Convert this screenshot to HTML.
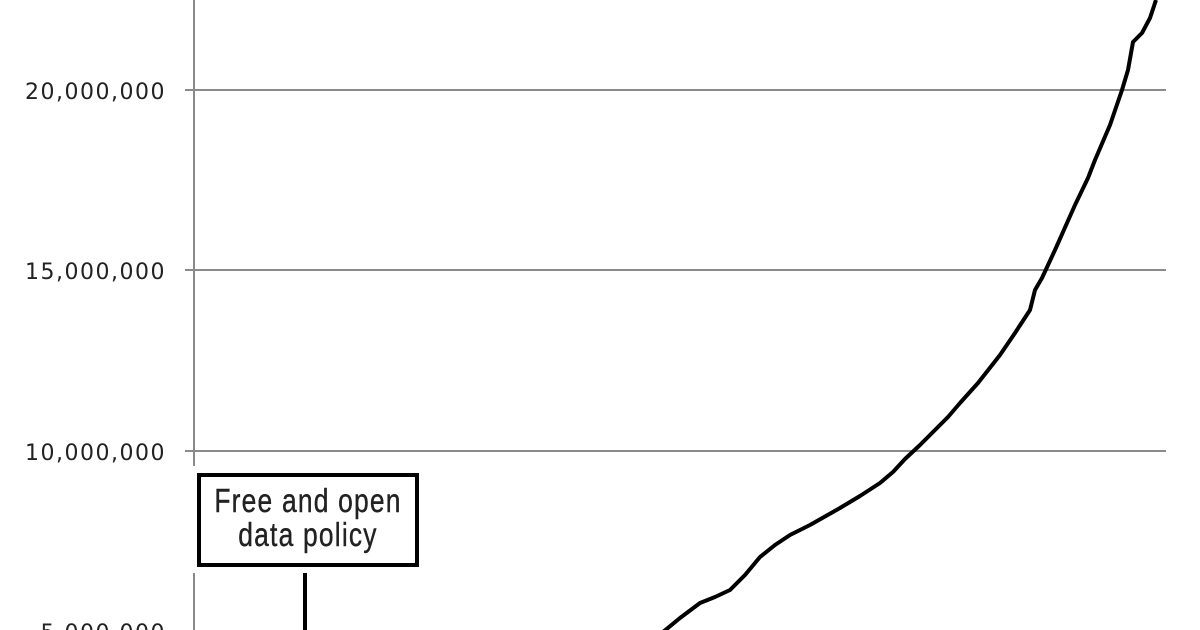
<!DOCTYPE html>
<html><head><style>
html,body{margin:0;padding:0;background:#fff;}
svg{display:block;}
</style></head><body>
<svg width="1200" height="630" viewBox="0 0 1200 630" xmlns="http://www.w3.org/2000/svg">
<g stroke="#8a8a8a" stroke-width="2" fill="none">
<line x1="185" y1="90" x2="1166" y2="90"/>
<line x1="185" y1="270" x2="1166" y2="270"/>
<line x1="185" y1="451" x2="1166" y2="451"/>
<line x1="194" y1="0" x2="194" y2="466"/>
<line x1="194" y1="573" x2="194" y2="630"/>
</g>
<g font-family="'DejaVu Sans', 'Liberation Sans', sans-serif" font-size="22" fill="#222" text-anchor="end" letter-spacing="1.5">
<text x="166" y="99">20,000,000</text>
<text x="166" y="279">15,000,000</text>
<text x="166" y="460">10,000,000</text>
<text x="166" y="640">5,000,000</text>
</g>
<rect x="199" y="475" width="218" height="90" fill="#fff" stroke="#000" stroke-width="4"/>
<g font-family="'Liberation Sans Narrow','Liberation Sans',sans-serif" font-size="33" fill="#222" stroke="#222" stroke-width="0.4" text-anchor="middle" letter-spacing="1.5" transform="translate(308 0) scale(0.8 1)">
<text x="0" y="512">Free and open</text>
<text x="0" y="546">data policy</text>
</g>
<line x1="305" y1="573" x2="305" y2="630" stroke="#000" stroke-width="4"/>
<polyline fill="none" stroke="#000" stroke-width="4" stroke-linejoin="round"
points="663,632 680,618 700,603 715,597 730,590 745,575 760,557 775,545 790,535 810,525 840,508 860,496 880,483 893,472 905,459 920,445 933,432 948,417 960,403 978,383 1000,355 1015,333 1030,310 1035,290 1042,278 1055,250 1075,205 1088,178 1095,160 1110,125 1122,90 1128,70 1133,42 1142,33 1150,18 1156,0"/>
</svg>
</body></html>
